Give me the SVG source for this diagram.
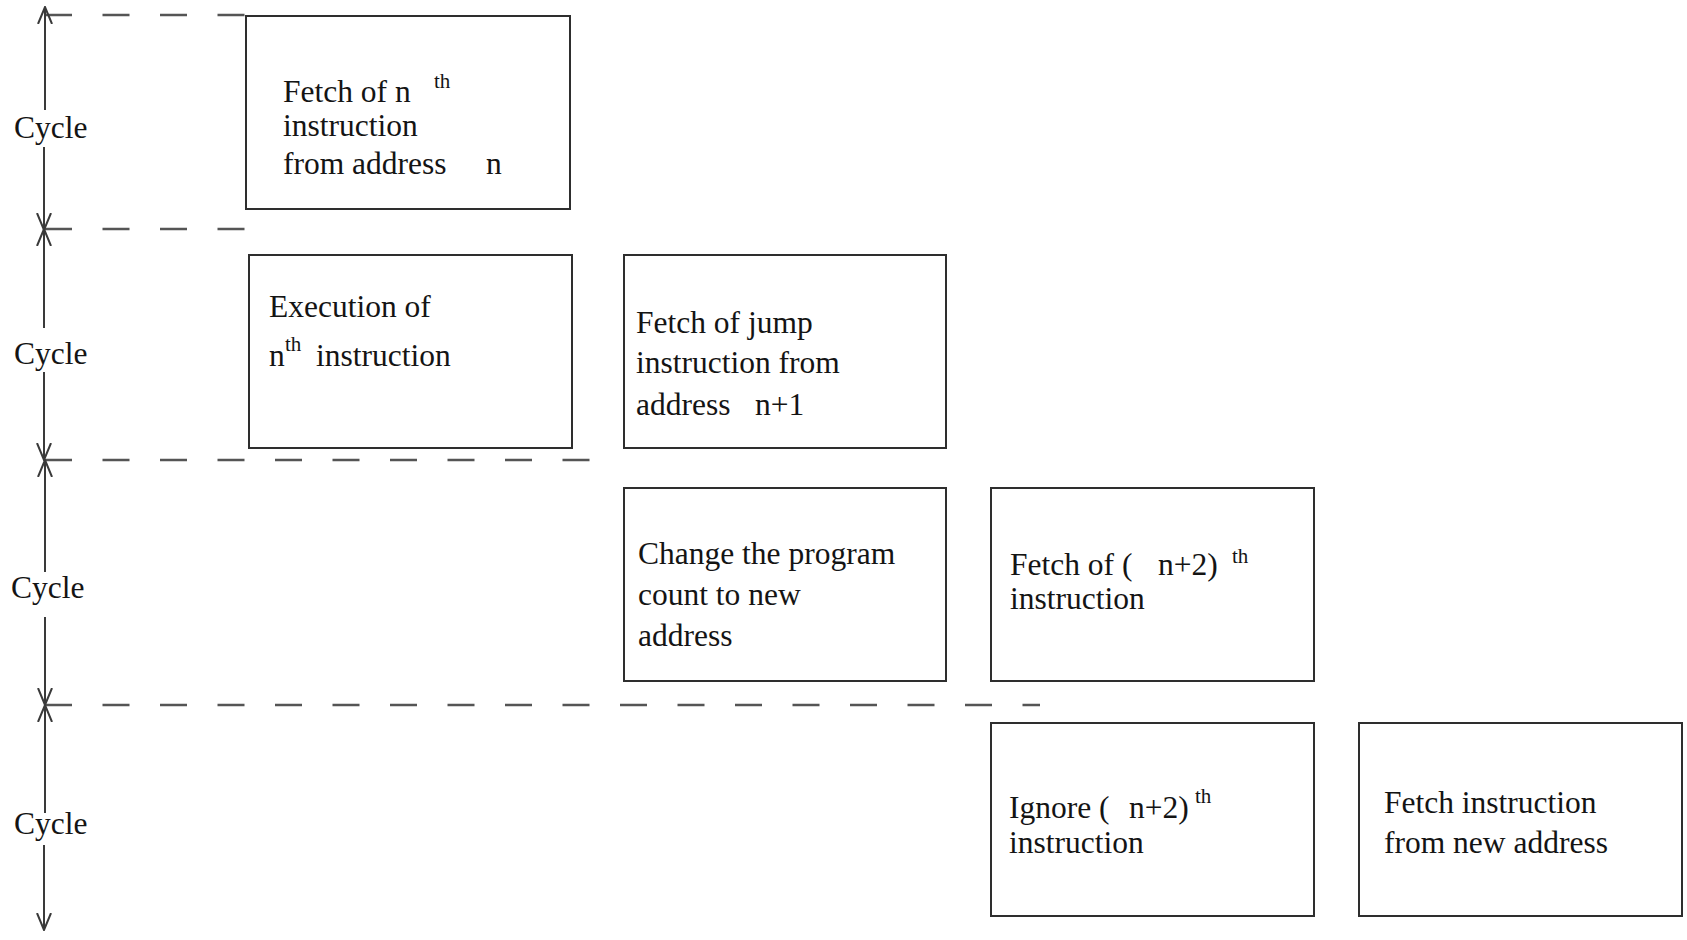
<svg xmlns="http://www.w3.org/2000/svg" width="1687" height="940" viewBox="0 0 1687 940">
  <style>
    .box { fill: #ffffff; stroke: #2e2e2e; stroke-width: 2; }
    .lbl { font-family: "Liberation Serif", "Times New Roman", serif; font-size: 31.5px; fill: #141414; }
    .sup { font-size: 21px; }
    .axis { stroke: #3a3a3a; stroke-width: 2; fill: none; }
    .guide { stroke: #555555; stroke-width: 2.5; stroke-dasharray: 27 30.5; fill: none; }
  </style>
  <defs>
    <marker id="open-head" viewBox="0 0 18 16" refX="17" refY="8" markerWidth="18" markerHeight="16" markerUnits="userSpaceOnUse" orient="auto">
      <path d="M0,1 L17,8 L0,15" fill="none" stroke="#3a3a3a" stroke-width="2"/>
    </marker>
  </defs>
  <rect width="1687" height="940" fill="#ffffff"/>

  <!-- cycle boundaries and cycle-length arrows -->
  <g id="connectors">
    <line class="guide" x1="45" y1="15" x2="246" y2="15"/>
    <line class="guide" x1="45" y1="229" x2="246" y2="229"/>
    <line class="guide" x1="45" y1="460" x2="590" y2="460"/>
    <line class="guide" x1="45" y1="705" x2="1040" y2="705"/>

    <line class="axis" x1="45" y1="110" x2="45" y2="7" marker-end="url(#open-head)"/>
    <line class="axis" x1="44" y1="147" x2="44" y2="230" marker-end="url(#open-head)"/>

    <line class="axis" x1="44" y1="328" x2="44" y2="229" marker-end="url(#open-head)"/>
    <line class="axis" x1="44" y1="372" x2="44" y2="460" marker-end="url(#open-head)"/>

    <line class="axis" x1="45" y1="572" x2="45" y2="460" marker-end="url(#open-head)"/>
    <line class="axis" x1="45" y1="617" x2="45" y2="705" marker-end="url(#open-head)"/>

    <line class="axis" x1="45" y1="813" x2="45" y2="705" marker-end="url(#open-head)"/>
    <line class="axis" x1="44" y1="845" x2="44" y2="930" marker-end="url(#open-head)"/>
  </g>

  <!-- cycle labels -->
  <g id="cycle-labels">
    <text class="lbl" x="14" y="138">Cycle</text>
    <text class="lbl" x="14" y="364">Cycle</text>
    <text class="lbl" x="11" y="598">Cycle</text>
    <text class="lbl" x="14" y="834">Cycle</text>
  </g>

  <g id="fetch-n">
    <rect class="box" x="246" y="16" width="324" height="193"/>
    <text class="lbl" x="283" y="102">Fetch of n</text>
    <text class="lbl sup" x="434" y="88">th</text>
    <text class="lbl" x="283" y="136">instruction</text>
    <text class="lbl" x="283" y="174">from address</text>
    <text class="lbl" x="486" y="174">n</text>
  </g>

  <g id="execute-n">
    <rect class="box" x="249" y="255" width="323" height="193"/>
    <text class="lbl" x="269" y="317">Execution of</text>
    <text class="lbl" x="269" y="366">n</text>
    <text class="lbl sup" x="285" y="351">th</text>
    <text class="lbl" x="316" y="366">instruction</text>
  </g>

  <g id="fetch-jump">
    <rect class="box" x="624" y="255" width="322" height="193"/>
    <text class="lbl" x="636" y="333">Fetch of jump</text>
    <text class="lbl" x="636" y="373">instruction from</text>
    <text class="lbl" x="636" y="415">address</text>
    <text class="lbl" x="755" y="415">n+1</text>
  </g>

  <g id="change-pc">
    <rect class="box" x="624" y="488" width="322" height="193"/>
    <text class="lbl" x="638" y="564">Change the program</text>
    <text class="lbl" x="638" y="605">count to new</text>
    <text class="lbl" x="638" y="646">address</text>
  </g>

  <g id="fetch-n2">
    <rect class="box" x="991" y="488" width="323" height="193"/>
    <text class="lbl" x="1010" y="575">Fetch of (</text>
    <text class="lbl" x="1158" y="575">n+2)</text>
    <text class="lbl sup" x="1232" y="563">th</text>
    <text class="lbl" x="1010" y="609">instruction</text>
  </g>

  <g id="ignore-n2">
    <rect class="box" x="991" y="723" width="323" height="193"/>
    <text class="lbl" x="1009" y="818">Ignore (</text>
    <text class="lbl" x="1129" y="818">n+2)</text>
    <text class="lbl sup" x="1195" y="803">th</text>
    <text class="lbl" x="1009" y="853">instruction</text>
  </g>

  <g id="fetch-new">
    <rect class="box" x="1359" y="723" width="323" height="193"/>
    <text class="lbl" x="1384" y="813">Fetch instruction</text>
    <text class="lbl" x="1384" y="853">from new address</text>
  </g>
</svg>
